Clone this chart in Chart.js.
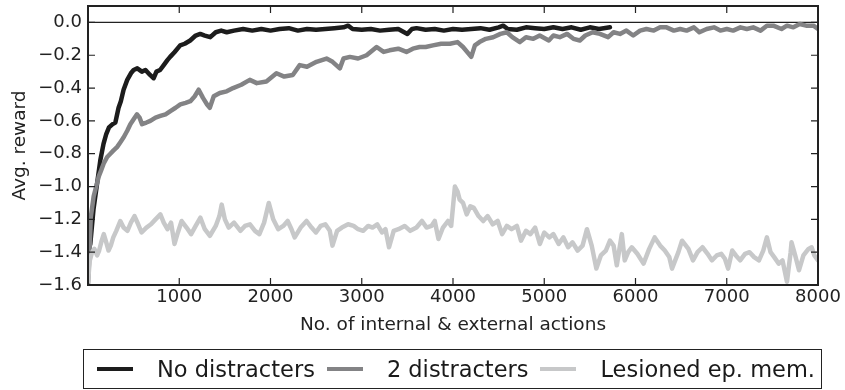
<!DOCTYPE html>
<html>
<head>
<meta charset="utf-8">
<script src="https://cdn.jsdelivr.net/npm/chart.js@4.4.1/dist/chart.umd.min.js"></script>
<style>
  body { margin: 0; background: #fff; }
  #wrap { position: relative; width: 845px; height: 390px; }
  #legend {
    position: absolute; left: 83px; top: 349px; width: 739px; height: 40px;
    box-sizing: border-box; border: 1.5px solid #222;
    display: flex; align-items: center; padding-left: 13px;
    font-family: 'DejaVu Sans'; font-size: 22.5px; color: #1a1a1a;
  }
  .item { display: flex; align-items: center; margin-right: 12px; white-space: nowrap; }
  .swatch { display: inline-block; width: 36px; height: 4px; margin-right: 24px; }
</style>
</head>
<body>
<div id="wrap">
  <canvas id="chart" width="845" height="390"></canvas>
  <div id="legend"></div>
</div>
<script>
// series names + colours
const seriesNames = ['No distracters', '2 distracters', 'Lesioned ep. mem.'];
const seriesColors = ['#1c1c1c', '#838385', '#c7c8c9'];

// tick labels shown on the axes
const xTickValues = [1000, 2000, 3000, 4000, 5000, 6000, 7000, 8000];
const yTickValues = [-1.6, -1.4, -1.2, -1.0, -0.8, -0.6, -0.4, -0.2, 0.0];

// [actions, avg reward]
const noDistracters = [
  [0,-1.40],[25,-1.35],[60,-1.14],[100,-0.98],[135,-0.84],[170,-0.74],[200,-0.68],[230,-0.64],[270,-0.62],[300,-0.61],
  [335,-0.52],[360,-0.48],[390,-0.41],[430,-0.35],[470,-0.31],[500,-0.29],[540,-0.28],[590,-0.30],[630,-0.29],[680,-0.32],
  [720,-0.34],[750,-0.30],[790,-0.29],[830,-0.26],[870,-0.23],[900,-0.21],[950,-0.18],[1010,-0.14],[1060,-0.13],[1120,-0.11],
  [1180,-0.08],[1230,-0.07],[1280,-0.08],[1340,-0.09],[1400,-0.06],[1460,-0.05],[1520,-0.06],[1600,-0.05],[1700,-0.04],[1800,-0.05],
  [1900,-0.04],[2000,-0.05],[2100,-0.04],[2200,-0.035],[2300,-0.05],[2400,-0.04],[2500,-0.045],[2600,-0.04],[2700,-0.035],[2800,-0.03],
  [2850,-0.02],[2900,-0.04],[3000,-0.045],[3100,-0.04],[3200,-0.05],[3300,-0.045],[3400,-0.04],[3500,-0.07],[3550,-0.04],[3600,-0.035],
  [3700,-0.045],[3800,-0.04],[3900,-0.05],[4000,-0.04],[4100,-0.045],[4200,-0.04],[4300,-0.035],[4400,-0.045],[4500,-0.03],[4550,-0.02],
  [4600,-0.04],[4700,-0.045],[4800,-0.03],[4900,-0.035],[5000,-0.04],[5100,-0.03],[5200,-0.04],[5300,-0.03],[5400,-0.045],[5500,-0.03],
  [5600,-0.04],[5720,-0.03]
];

const twoDistracters = [
  [0,-1.60],[20,-1.35],[30,-1.19],[62,-1.06],[90,-1.00],[117,-0.94],[145,-0.90],[172,-0.86],[210,-0.82],[245,-0.80],
  [280,-0.78],[318,-0.76],[355,-0.73],[391,-0.70],[430,-0.66],[464,-0.62],[500,-0.59],[537,-0.56],[565,-0.58],[592,-0.62],
  [640,-0.61],[683,-0.60],[740,-0.58],[793,-0.57],[850,-0.56],[903,-0.54],[960,-0.52],[1012,-0.50],[1070,-0.49],[1122,-0.48],
  [1170,-0.45],[1213,-0.41],[1260,-0.46],[1305,-0.50],[1335,-0.52],[1378,-0.45],[1444,-0.43],[1520,-0.42],[1590,-0.40],[1680,-0.38],
  [1773,-0.35],[1850,-0.37],[1955,-0.36],[2065,-0.31],[2150,-0.33],[2244,-0.32],[2320,-0.26],[2400,-0.27],[2504,-0.24],[2614,-0.22],
  [2680,-0.24],[2760,-0.28],[2800,-0.22],[2870,-0.21],[2960,-0.22],[3053,-0.20],[3163,-0.15],[3240,-0.18],[3305,-0.17],[3400,-0.16],
  [3490,-0.18],[3560,-0.16],[3634,-0.15],[3700,-0.15],[3780,-0.14],[3870,-0.13],[3966,-0.13],[4050,-0.12],[4110,-0.15],[4200,-0.21],
  [4240,-0.14],[4290,-0.12],[4360,-0.10],[4440,-0.09],[4520,-0.07],[4590,-0.06],[4650,-0.09],[4733,-0.12],[4800,-0.09],[4880,-0.10],
  [4950,-0.08],[5050,-0.11],[5100,-0.08],[5170,-0.09],[5250,-0.07],[5320,-0.10],[5390,-0.11],[5450,-0.08],[5530,-0.06],[5610,-0.07],
  [5700,-0.09],[5760,-0.06],[5830,-0.07],[5900,-0.05],[5975,-0.08],[6050,-0.05],[6120,-0.04],[6200,-0.05],[6270,-0.03],[6340,-0.03],
  [6420,-0.05],[6490,-0.04],[6560,-0.05],[6640,-0.03],[6700,-0.06],[6780,-0.04],[6860,-0.03],[6930,-0.05],[7000,-0.04],[7070,-0.05],
  [7150,-0.03],[7220,-0.04],[7290,-0.03],[7370,-0.05],[7440,-0.02],[7510,-0.02],[7600,-0.04],[7660,-0.02],[7730,-0.03],[7800,-0.01],
  [7870,-0.02],[7950,-0.02],[8000,-0.04]
];

const lesioned = [
  [0,-1.58],[20,-1.45],[45,-1.40],[70,-1.38],[100,-1.42],[122,-1.39],[150,-1.33],[173,-1.29],[200,-1.34],[225,-1.39],
  [250,-1.36],[277,-1.31],[310,-1.27],[354,-1.21],[390,-1.25],[432,-1.27],[470,-1.22],[510,-1.18],[550,-1.23],[587,-1.28],
  [640,-1.25],[690,-1.23],[740,-1.20],[793,-1.17],[830,-1.22],[871,-1.26],[910,-1.22],[948,-1.35],[985,-1.28],[1026,-1.21],
  [1080,-1.25],[1130,-1.29],[1180,-1.24],[1232,-1.19],[1280,-1.26],[1336,-1.30],[1400,-1.24],[1440,-1.18],[1465,-1.11],[1500,-1.20],
  [1542,-1.25],[1600,-1.22],[1671,-1.27],[1720,-1.24],[1775,-1.23],[1830,-1.27],[1878,-1.29],[1930,-1.22],[1981,-1.10],[2030,-1.20],
  [2085,-1.26],[2140,-1.24],[2188,-1.21],[2230,-1.26],[2265,-1.31],[2330,-1.25],[2395,-1.21],[2450,-1.25],[2498,-1.28],[2550,-1.24],
  [2601,-1.23],[2650,-1.27],[2679,-1.36],[2730,-1.27],[2782,-1.25],[2850,-1.23],[2911,-1.24],[2960,-1.26],[3015,-1.27],[3070,-1.24],
  [3118,-1.25],[3170,-1.23],[3222,-1.28],[3260,-1.26],[3299,-1.37],[3350,-1.27],[3402,-1.26],[3470,-1.24],[3531,-1.27],[3600,-1.25],
  [3660,-1.21],[3710,-1.25],[3764,-1.24],[3800,-1.21],[3841,-1.32],[3890,-1.25],[3945,-1.21],[3980,-1.24],[4021,-1.00],[4050,-1.03],
  [4073,-1.08],[4110,-1.10],[4150,-1.17],[4190,-1.12],[4228,-1.13],[4280,-1.18],[4331,-1.21],[4380,-1.18],[4435,-1.23],[4490,-1.21],
  [4538,-1.29],[4590,-1.24],[4642,-1.26],[4700,-1.24],[4745,-1.33],[4800,-1.27],[4848,-1.29],[4900,-1.25],[4952,-1.35],[5000,-1.28],
  [5055,-1.31],[5100,-1.29],[5158,-1.35],[5210,-1.31],[5262,-1.37],[5310,-1.34],[5365,-1.39],[5420,-1.36],[5468,-1.26],[5520,-1.36],
  [5571,-1.50],[5620,-1.42],[5675,-1.39],[5720,-1.33],[5760,-1.36],[5795,-1.48],[5850,-1.29],[5882,-1.45],[5920,-1.40],[5959,-1.37],
  [6020,-1.41],[6088,-1.47],[6150,-1.38],[6210,-1.31],[6270,-1.36],[6321,-1.39],[6370,-1.43],[6400,-1.50],[6470,-1.40],[6510,-1.33],
  [6580,-1.38],[6630,-1.45],[6680,-1.40],[6734,-1.37],[6790,-1.41],[6837,-1.45],[6890,-1.42],[6940,-1.41],[6980,-1.44],[7015,-1.50],
  [7060,-1.39],[7100,-1.42],[7147,-1.45],[7200,-1.41],[7250,-1.40],[7300,-1.43],[7353,-1.45],[7400,-1.39],[7440,-1.31],[7480,-1.40],
  [7520,-1.43],[7570,-1.47],[7611,-1.45],[7660,-1.58],[7700,-1.40],[7710,-1.34],[7750,-1.42],[7792,-1.51],[7840,-1.42],[7896,-1.38],
  [7930,-1.37],[7960,-1.42],[8000,-1.45]
];

function toPoints(pairs) {
  return pairs.map(p => ({ x: p[0], y: p[1] }));
}

const font = { family: 'DejaVu Sans', size: 18 };

// matplotlib-ish frame with ticks pointing inward on all 4 sides
const framePlugin = {
  id: 'frame',
  afterDatasetsDraw(chart) {
    const { ctx, chartArea: a, scales } = chart;
    const tl = 7;
    ctx.save();
    ctx.strokeStyle = '#222';
    ctx.lineWidth = 1.2;
    ctx.beginPath();
    scales.x.ticks.forEach(t => {
      const px = scales.x.getPixelForValue(t.value);
      ctx.moveTo(px, a.bottom); ctx.lineTo(px, a.bottom - tl);
      ctx.moveTo(px, a.top); ctx.lineTo(px, a.top + tl);
    });
    scales.y.ticks.forEach(t => {
      const py = scales.y.getPixelForValue(t.value);
      ctx.moveTo(a.left, py); ctx.lineTo(a.left + tl, py);
      ctx.moveTo(a.right, py); ctx.lineTo(a.right - tl, py);
    });
    ctx.stroke();
    ctx.lineWidth = 2;
    ctx.strokeRect(a.left, a.top, a.right - a.left, a.bottom - a.top);
    ctx.restore();
  }
};

const datasets = [noDistracters, twoDistracters, lesioned].map((d, i) => ({
  label: seriesNames[i],
  data: toPoints(d),
  borderColor: seriesColors[i],
  borderWidth: 4.5,
  order: 3 - i
}));
// the thin y = 0 reference line
datasets.push({
  label: 'zero',
  data: [{ x: 0, y: 0 }, { x: 8000, y: 0 }],
  borderColor: '#222',
  borderWidth: 1.2,
  order: 4
});

new Chart(document.getElementById('chart'), {
  type: 'line',
  data: { datasets: datasets },
  options: {
    responsive: false,
    animation: false,
    layout: { padding: { left: 0, right: 27, top: 6, bottom: 49 } },
    plugins: { legend: { display: false }, tooltip: { enabled: false } },
    elements: {
      point: { radius: 0 },
      line: { tension: 0, borderJoinStyle: 'round', borderCapStyle: 'round' }
    },
    scales: {
      x: {
        type: 'linear',
        min: 0,
        max: 8000,
        afterBuildTicks: s => { s.ticks = xTickValues.map(v => ({ value: v })); },
        afterFit: s => { s.height = 56; s.paddingLeft = 0; s.paddingRight = 0; },
        ticks: { padding: 2, color: '#222', font: font, maxRotation: 0, autoSkip: false, callback: v => String(v) },
        grid: { display: false, drawTicks: false },
        border: { display: false },
        title: {
          display: true, text: 'No. of internal & external actions',
          color: '#222', font: { family: 'DejaVu Sans', size: 18.5 }, padding: { top: 0, bottom: 5 }
        }
      },
      y: {
        min: -1.6,
        max: 0.1,
        afterBuildTicks: s => { s.ticks = yTickValues.map(v => ({ value: v })); },
        afterFit: s => { s.width = 88; s.paddingTop = 0; s.paddingBottom = 0; },
        ticks: {
          padding: 6, color: '#222', font: font, autoSkip: false,
          callback: v => v.toFixed(1).replace('-', '\u2212')
        },
        grid: { display: false, drawTicks: false },
        border: { display: false },
        title: {
          display: true, text: 'Avg. reward',
          color: '#222', font: { family: 'DejaVu Sans', size: 18.5 }, padding: { top: 9, bottom: 0 }
        }
      }
    }
  },
  plugins: [framePlugin]
});

// legend box under the plot
const legend = document.getElementById('legend');
seriesNames.forEach((name, i) => {
  const item = document.createElement('span');
  item.className = 'item';
  const sw = document.createElement('span');
  sw.className = 'swatch';
  sw.style.background = seriesColors[i];
  item.appendChild(sw);
  item.appendChild(document.createTextNode(name));
  legend.appendChild(item);
});
</script>
</body>
</html>
